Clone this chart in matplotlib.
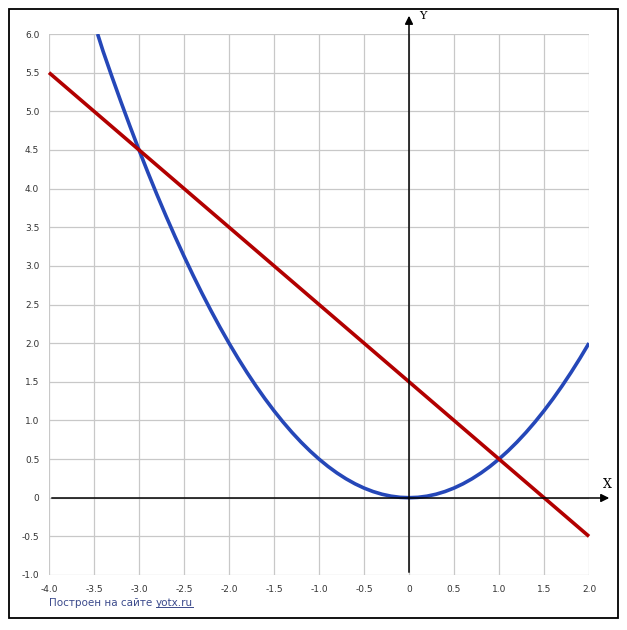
import matplotlib
matplotlib.use("Agg")
import matplotlib.pyplot as plt
from matplotlib.patches import Rectangle

# parabola
parab_x = [-3.46, -3.4, -3.3, -3.2, -3.1, -3.0, -2.9, -2.8, -2.7, -2.6, -2.5, -2.4,
           -2.3, -2.2, -2.1, -2.0, -1.9, -1.8, -1.7, -1.6, -1.5, -1.4, -1.3, -1.2,
           -1.1, -1.0, -0.9, -0.8, -0.7, -0.6, -0.5, -0.4, -0.3, -0.2, -0.1, 0.0,
           0.1, 0.2, 0.3, 0.4, 0.5, 0.6, 0.7, 0.8, 0.9, 1.0, 1.1, 1.2, 1.3, 1.4,
           1.5, 1.6, 1.7, 1.8, 1.9, 2.0]
parab_y = [6.0, 5.78, 5.445, 5.12, 4.805, 4.5, 4.205, 3.92, 3.645, 3.38, 3.125, 2.88,
           2.645, 2.42, 2.205, 2.0, 1.805, 1.62, 1.445, 1.28, 1.125, 0.98, 0.845, 0.72,
           0.605, 0.5, 0.405, 0.32, 0.245, 0.18, 0.125, 0.08, 0.045, 0.02, 0.005, 0.0,
           0.005, 0.02, 0.045, 0.08, 0.125, 0.18, 0.245, 0.32, 0.405, 0.5, 0.605, 0.72,
           0.845, 0.98, 1.125, 1.28, 1.445, 1.62, 1.805, 2.0]

# straight line
line_x = [-4.0, -3.0, 1.0, 2.0]
line_y = [5.5, 4.5, 0.5, -0.5]

x_ticks = [-4.0, -3.5, -3.0, -2.5, -2.0, -1.5, -1.0, -0.5, 0.0, 0.5, 1.0, 1.5, 2.0]
x_labels = ["-4.0", "-3.5", "-3.0", "-2.5", "-2.0", "-1.5", "-1.0", "-0.5", "0",
            "0.5", "1.0", "1.5", "2.0"]
y_ticks = [-1.0, -0.5, 0.0, 0.5, 1.0, 1.5, 2.0, 2.5, 3.0, 3.5, 4.0, 4.5, 5.0, 5.5, 6.0]
y_labels = ["-1.0", "-0.5", "0", "0.5", "1.0", "1.5", "2.0", "2.5", "3.0", "3.5",
            "4.0", "4.5", "5.0", "5.5", "6.0"]

W, H = 627, 630
fig = plt.figure(figsize=(W / 100, H / 100), dpi=100)
fig.patch.set_facecolor("white")

# outer frame
fig.patches.append(Rectangle((9 / W, 12 / H), 609 / W, 609 / H, transform=fig.transFigure,
                             fill=False, edgecolor="black", linewidth=1.3))

ax = fig.add_axes([49 / W, (H - 575) / H, 540 / W, 541 / H])
ax.set_xlim(-4, 2)
ax.set_ylim(-1, 6)
for s in ax.spines.values():
    s.set_visible(False)

ax.set_xticks(x_ticks)
ax.set_xticklabels(x_labels)
ax.set_yticks(y_ticks)
ax.set_yticklabels(y_labels)
ax.tick_params(length=0, labelsize=6.5, labelcolor="#333333", pad=7)
ax.grid(True, color="#c8c8c8", linewidth=0.9)
ax.set_axisbelow(True)

# coordinate axes with arrows (figure pixels, origin bottom-left)
ax.annotate("", xy=(612, H - 498), xytext=(49, H - 498), xycoords="figure pixels",
            textcoords="figure pixels",
            arrowprops=dict(arrowstyle="-|>", color="black", lw=1.1, mutation_scale=12))
ax.annotate("", xy=(409, H - 13), xytext=(409, H - 575), xycoords="figure pixels",
            textcoords="figure pixels",
            arrowprops=dict(arrowstyle="-|>", color="black", lw=1.1, mutation_scale=12))
fig.text(607 / W, (H - 485) / H, "X", fontsize=9, family="DejaVu Serif", ha="center", va="center")
fig.text(423 / W, (H - 16) / H, "Y", fontsize=8, family="DejaVu Serif", ha="center", va="center")

ax.plot(parab_x, parab_y, color="#2547b8", linewidth=2.6, solid_capstyle="butt", clip_on=True)
ax.plot(line_x, line_y, color="#b20000", linewidth=2.6, solid_capstyle="butt", clip_on=False)

# footer
t1 = fig.text(49 / W, (H - 603) / H, "Построен на сайте ", fontsize=7.5, color="#3b4a8c",
              ha="left", va="center")
fig.canvas.draw()
bb = t1.get_window_extent()
t2 = fig.text(bb.x1 / W, (H - 603) / H, "yotx.ru", fontsize=7.5, color="#3b4a8c",
              ha="left", va="center")
fig.canvas.draw()
bb2 = t2.get_window_extent()
fig.add_artist(plt.Line2D([bb2.x0 / W, bb2.x1 / W], [(bb2.y0 + 1) / H, (bb2.y0 + 1) / H],
                          transform=fig.transFigure, color="#3b4a8c", linewidth=0.7))

fig.savefig("out.png", dpi=100)
